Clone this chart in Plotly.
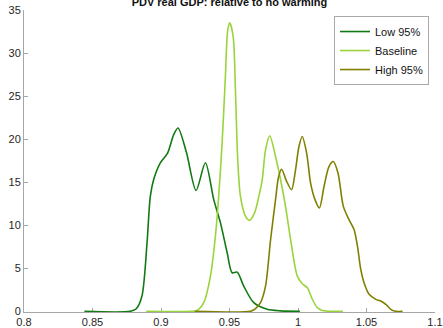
import plotly.graph_objects as go

# Low 95%
low_x = [0.8441, 0.8775, 0.882, 0.8861, 0.8898, 0.8922, 0.8946, 0.8995, 0.9048, 0.9092, 0.9124,
         0.9185, 0.9256, 0.9324, 0.9385, 0.9434, 0.9483, 0.9519, 0.9556, 0.9604, 0.9677, 0.9775,
         0.9873, 1.0014]
low_y = [0, 0, 0.3, 1.77, 7.95, 13.35, 15.28, 17.25, 18.37, 20.49, 21.3,
         18.5, 14.04, 17.25, 12.97, 10.27, 6.8, 4.48, 4.55, 2.93, 1.0, 0.23,
         0.05, 0]

# Baseline
base_x = [0.8892, 0.9214, 0.9263, 0.9312, 0.9361, 0.9397, 0.9421, 0.9446, 0.947, 0.9487, 0.9502,
          0.9527, 0.9544, 0.956, 0.958, 0.9617, 0.9646, 0.9683, 0.9714, 0.9739, 0.9763, 0.9794,
          0.9836, 0.9873, 0.9909, 0.9946, 0.9995, 1.0031, 1.0068, 1.0105, 1.0141, 1.0178, 1.0328]
base_y = [0, 0, 0.1, 1.0, 4.09, 8.72, 13.35, 19.53, 27.24, 32.65, 33.5,
          31.88, 25.32, 17.6, 13.35, 11.03, 10.57, 11.43, 13.35, 15.28, 18.76, 20.4,
          17.98, 15.28, 12.19, 8.34, 4.09, 3.21, 2.74, 1.39, 0.43, 0.1, 0]

# High 95%
high_x = [0.9246, 0.9653, 0.969, 0.9726, 0.9763, 0.98, 0.9836, 0.9858, 0.988, 0.9917, 0.9953,
          0.9982, 1.0007, 1.0031, 1.0063, 1.0092, 1.0124, 1.0156, 1.019, 1.0226, 1.0258, 1.0292,
          1.0331, 1.0372, 1.0409, 1.0434, 1.0458, 1.0482, 1.0519, 1.0568, 1.0604, 1.0641, 1.0677,
          1.0714, 1.0763]
high_y = [0, 0, 0.3, 1.0, 2.93, 8.34, 12.97, 15.6, 16.5, 15.09, 14.13,
          16.44, 19.14, 20.3, 18.37, 14.9, 12.97, 12.0, 14.5, 16.82, 17.4, 16.06,
          12.19, 10.65, 9.49, 7.56, 4.86, 3.32, 1.97, 1.39, 1.19, 0.81, 0.23,
          0, 0]

x_ticks = [0.8, 0.85, 0.9, 0.95, 1.0, 1.05, 1.1]
x_tick_labels = ["0.8", "0.85", "0.9", "0.95", "1", "1.05", "1.1"]
y_ticks = [0, 5, 10, 15, 20, 25, 30, 35]

series = [
    ("Low 95%", low_x, low_y, "rgb(18,122,18)"),
    ("Baseline", base_x, base_y, "rgb(154,212,60)"),
    ("High 95%", high_x, high_y, "rgb(128,128,0)"),
]

fig = go.Figure()
for name, xs, ys, col in series:
    fig.add_trace(go.Scatter(x=xs, y=ys, mode="lines", name=name,
                             line=dict(color=col, width=1.6, shape="spline", smoothing=0.8)))

font_family = "Liberation Sans, Arial, sans-serif"
fig.update_layout(
    width=443, height=328,
    margin=dict(l=24, r=8, t=10, b=16),
    paper_bgcolor="white", plot_bgcolor="white",
    font=dict(family=font_family, size=11, color="#262626"),
    title=dict(text="<b>PDV real GDP: relative to no warming</b>", x=0.518, xanchor="center",
               y=0.992, yanchor="middle", yref="container", automargin=False,
               font=dict(family=font_family, size=11, color="#111")),
    showlegend=True,
    legend=dict(x=0.9854, xanchor="right", y=0.98, yanchor="top",
                bgcolor="white", bordercolor="#aaaaaa", borderwidth=1,
                font=dict(family=font_family, size=11, color="#111"),
                tracegroupgap=0, itemwidth=30),
)
fig.update_xaxes(range=[0.8, 1.1], tickvals=x_ticks, ticktext=x_tick_labels,
                 showgrid=False, zeroline=False, showline=True, linecolor="#a6a6a6",
                 linewidth=1, ticks="inside", ticklen=4, tickcolor="#a6a6a6",
                 layer="below traces", mirror=False, automargin=False)
fig.update_yaxes(range=[-0.08, 35], tickvals=y_ticks,
                 showgrid=False, zeroline=False, showline=True, linecolor="#a6a6a6",
                 linewidth=1, ticks="inside", ticklen=4, tickcolor="#a6a6a6",
                 layer="below traces", mirror=False, automargin=False)

fig.write_html("out.html")
